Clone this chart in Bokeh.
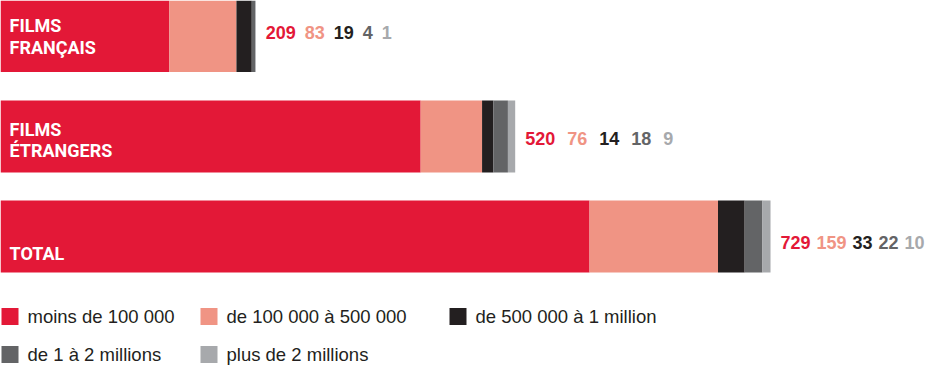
from bokeh.plotting import figure
from bokeh.models import Range1d
from bokeh.embed import file_html
from bokeh.resources import INLINE
from bokeh.core.properties import value
import numpy as np

# ---- data ----
categories = ["FILMS\nFRANÇAIS", "FILMS\nÉTRANGERS", "TOTAL"]
series_names = ["moins de 100 000", "de 100 000 à 500 000", "de 500 000 à 1 million",
                "de 1 à 2 millions", "plus de 2 millions"]
moins_100k = [209, 520, 729]
de_100k_500k = [83, 76, 159]
de_500k_1m = [19, 14, 33]
de_1m_2m = [4, 18, 22]
plus_2m = [1, 9, 10]

# ---- styles / layout ----
colors = ["#E31837", "#F09484", "#231F20", "#636466", "#A7A9AC"]
W, H = 930, 365
K = 0.808                      # px per unit
X_END = W / K
bar_centers = [35.5, 136, 236]
bar_height = 72
label_last_center = [46.5, 150, 252.5]
label_line_gap = 21.5
value_center = [32, 137.5, 242]
value_gap = [9, 12, 6]
BOLD = "Liberation Sans"

def px(v):
    return v / K

p = figure(width=W, height=H, output_backend="svg", toolbar_location=None,
           x_range=Range1d(0, X_END), y_range=Range1d(H, 0), min_border=0)
p.axis.visible = False
p.grid.visible = False
p.outline_line_color = None
p.background_fill_color = "white"
p.border_fill_color = "white"

series = [moins_100k, de_100k_500k, de_500k_1m, de_1m_2m, plus_2m]
data = np.array(series, dtype=float)
cum = np.vstack([np.zeros(3), np.cumsum(data, axis=0)])

for i, col in enumerate(colors):
    p.hbar(y=bar_centers, left=cum[i], right=cum[i + 1], height=bar_height,
           fill_color=col, line_color=None)

# category labels inside bars
for j, cat in enumerate(categories):
    lines = cat.split("\n")
    n = len(lines)
    for li, line in enumerate(lines):
        yc = label_last_center[j] - (n - 1 - li) * label_line_gap
        p.text(x=[px(9)], y=[yc], text=[line], text_color="white",
               text_font=value("Roboto"), text_font_style="bold",
               text_font_size="18px", text_baseline="middle", text_align="left")

# value labels to the right
DIGIT_W = 10.0
totals = cum[-1]
for j in range(3):
    off = 10.0
    for i in range(5):
        s = str(series[i][j])
        p.text(x=[totals[j] + px(off)], y=[value_center[j]], text=[s],
               text_color=colors[i], text_font=value(BOLD), text_font_style="bold",
               text_font_size="18px", text_baseline="middle", text_align="left")
        off += len(s) * DIGIT_W + value_gap[j]

# legend
leg_cols = [1, 200, 449]
leg_rows = [316, 354]
for i, name in enumerate(series_names):
    r, c = divmod(i, 3)
    x0 = leg_cols[c]
    yc = leg_rows[r]
    p.rect(x=[px(x0 + 8.5)], y=[yc], width=17, height=17, width_units="screen",
           height_units="screen", fill_color=colors[i], line_color=None)
    p.text(x=[px(x0 + 26)], y=[yc], text=[name], text_color="#231F20",
           text_font=value("Liberation Sans"), text_font_size="18.5px",
           text_baseline="middle", text_align="left")

open("out.html", "w").write(file_html(p, INLINE))
